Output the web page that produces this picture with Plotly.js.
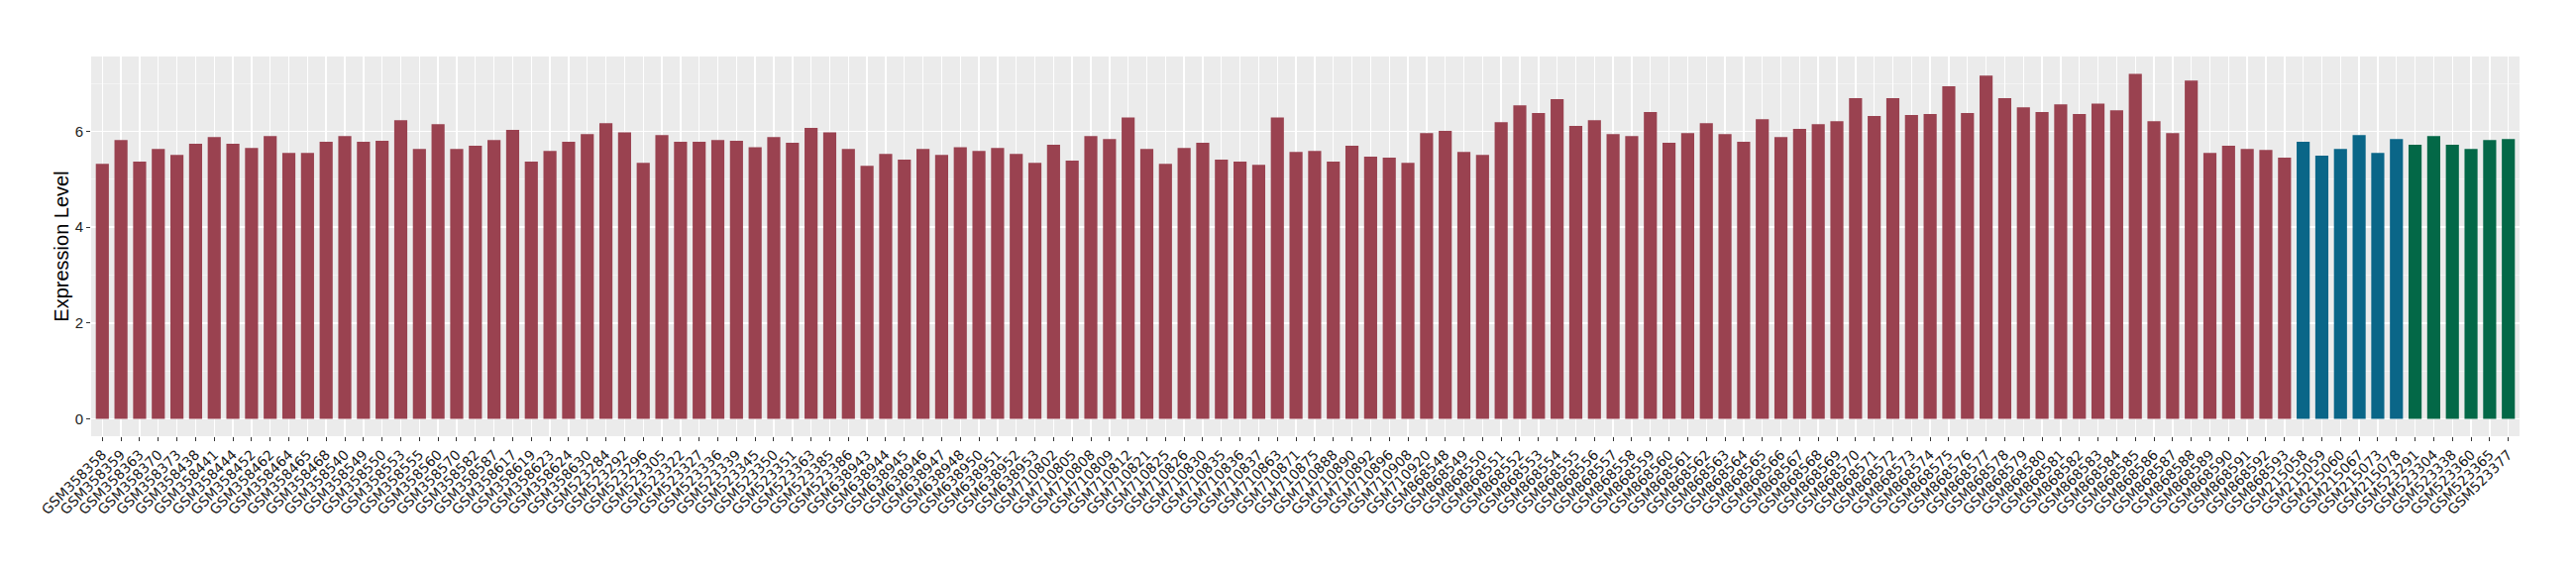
<!DOCTYPE html>
<html>
<head>
<meta charset="utf-8">
<script src="https://cdn.plot.ly/plotly-3.0.1.min.js"></script>
<style>html,body{margin:0;padding:0;background:#fff;}#chart{width:2600px;height:580px;}</style>
</head>
<body>
<div id="chart"></div>
<script>
// Group 1 (red)
const redSamples = [
  "GSM358358","GSM358359","GSM358363","GSM358370","GSM358373","GSM358438","GSM358441","GSM358444","GSM358452","GSM358462",
  "GSM358464","GSM358465","GSM358468","GSM358540","GSM358549","GSM358550","GSM358553","GSM358555","GSM358560","GSM358570",
  "GSM358582","GSM358587","GSM358617","GSM358619","GSM358623","GSM358624","GSM358630",
  "GSM523284","GSM523292","GSM523296","GSM523305","GSM523322","GSM523327","GSM523336","GSM523339","GSM523345","GSM523350",
  "GSM523351","GSM523363","GSM523385","GSM523386",
  "GSM638943","GSM638944","GSM638945","GSM638946","GSM638947","GSM638948","GSM638950","GSM638951","GSM638952","GSM638953",
  "GSM710802","GSM710805","GSM710808","GSM710809","GSM710812","GSM710821","GSM710825","GSM710826","GSM710830","GSM710835",
  "GSM710836","GSM710837","GSM710863","GSM710871","GSM710875","GSM710888","GSM710890","GSM710892","GSM710896","GSM710908",
  "GSM710920",
  "GSM868548","GSM868549","GSM868550","GSM868551","GSM868552","GSM868553","GSM868554","GSM868555","GSM868556","GSM868557",
  "GSM868558","GSM868559","GSM868560","GSM868561","GSM868562","GSM868563","GSM868564","GSM868565","GSM868566","GSM868567",
  "GSM868568","GSM868569","GSM868570","GSM868571","GSM868572","GSM868573","GSM868574","GSM868575","GSM868576","GSM868577",
  "GSM868578","GSM868579","GSM868580","GSM868581","GSM868582","GSM868583","GSM868584","GSM868585","GSM868586","GSM868587",
  "GSM868588","GSM868589","GSM868590","GSM868591","GSM868592","GSM868593"
];
const redValues = [
  5.32,5.82,5.37,5.63,5.51,5.74,5.88,5.74,5.65,5.90,
  5.55,5.55,5.78,5.90,5.78,5.80,6.23,5.63,6.15,5.63,
  5.70,5.82,6.03,5.37,5.59,5.78,5.94,
  6.17,5.98,5.34,5.92,5.78,5.78,5.82,5.80,5.67,5.88,
  5.76,6.07,5.98,5.63,
  5.28,5.53,5.41,5.63,5.51,5.67,5.59,5.65,5.53,5.34,
  5.72,5.39,5.90,5.84,6.29,5.63,5.32,5.65,5.76,5.41,
  5.37,5.30,6.29,5.57,5.59,5.37,5.70,5.47,5.45,5.34,
  5.96,
  6.01,5.57,5.51,6.19,6.54,6.38,6.67,6.11,6.23,5.94,
  5.90,6.40,5.76,5.96,6.17,5.94,5.78,6.25,5.88,6.05,
  6.15,6.21,6.69,6.32,6.69,6.34,6.36,6.94,6.38,7.16,
  6.69,6.50,6.40,6.56,6.36,6.58,6.44,7.20,6.21,5.96,
  7.06,5.55,5.70,5.63,5.61,5.45
];
// Group 2 (blue)
const blueSamples = ["GSM215058","GSM215059","GSM215060","GSM215067","GSM215073","GSM215078"];
const blueValues = [5.78,5.49,5.63,5.92,5.55,5.84];
// Group 3 (green)
const greenSamples = ["GSM523291","GSM523304","GSM523338","GSM523360","GSM523365","GSM523377"];
const greenValues = [5.72,5.90,5.72,5.63,5.82,5.84];

const colors = {red: "#9A4250", blue: "#0A6688", green: "#036847"};
const nCats = redSamples.length + blueSamples.length + greenSamples.length;

function barTrace(x, y, c) {
  return {type: "bar", x: x, y: y, marker: {color: c, line: {width: 0}}, hoverinfo: "x+y", showlegend: false};
}

const data = [
  barTrace(redSamples, redValues, colors.red),
  barTrace(blueSamples, blueValues, colors.blue),
  barTrace(greenSamples, greenValues, colors.green)
];

const layout = {
  width: 2600, height: 580,
  margin: {l: 92, r: 57, t: 57, b: 140, pad: 0},
  paper_bgcolor: "#FFFFFF",
  plot_bgcolor: "#EBEBEB",
  barmode: "overlay",
  bargap: 0.3,
  font: {family: "Liberation Sans, Arial, sans-serif", color: "#1A1A1A"},
  xaxis: {
    type: "category",
    range: [-0.6, nCats - 1 + 0.6],
    tickangle: -45,
    tickfont: {size: 14, color: "#1A1A1A", family: "DejaVu Sans, sans-serif"},
    ticks: "outside", ticklen: 4, tickwidth: 1, tickcolor: "#333333",
    showgrid: true, gridcolor: "#FFFFFF", gridwidth: 1.4,
    showline: false, zeroline: false, automargin: false
  },
  yaxis: {
    range: [-0.36, 7.56],
    tickmode: "array", tickvals: [0, 2, 4, 6], ticktext: ["0", "2", "4", "6"],
    tickfont: {size: 15, color: "#222222"},
    ticks: "outside", ticklen: 4, tickwidth: 1, tickcolor: "#333333",
    showgrid: true, gridcolor: "#FFFFFF", gridwidth: 1.4,
    minor: {tickvals: [1, 3, 5, 7], showgrid: true, gridcolor: "#F7F7F7", gridwidth: 0.7, ticks: ""},
    zeroline: false, showline: false, automargin: false,
    title: {text: "Expression Level", font: {size: 20, color: "#000000"}, standoff: 0}
  }
};

Plotly.newPlot("chart", data, layout, {displayModeBar: false, staticPlot: true});
</script>
</body>
</html>
